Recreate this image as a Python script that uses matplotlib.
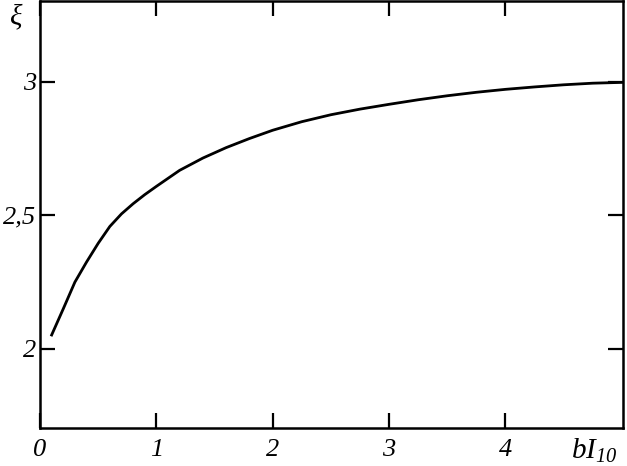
import matplotlib
matplotlib.use("Agg")
import matplotlib.pyplot as plt

# curve
bI = [0.1, 0.2, 0.3, 0.4, 0.5, 0.6, 0.7, 0.8, 0.9, 1.0, 1.2, 1.4, 1.6, 1.8,
      2.0, 2.25, 2.5, 2.75, 3.0, 3.25, 3.5, 3.75, 4.0, 4.25, 4.5, 4.75, 5.0]
xi = [2.052, 2.15, 2.25, 2.325, 2.395, 2.458, 2.505, 2.543, 2.577, 2.608,
      2.668, 2.714, 2.753, 2.787, 2.818, 2.85, 2.876, 2.897, 2.915, 2.932,
      2.947, 2.96, 2.971, 2.98, 2.988, 2.994, 2.997]

xticks = [0, 1, 2, 3, 4]
yticks = [2.0, 2.5, 3.0]
ylabels = ["2", "2,5", "3"]

plt.rcParams["font.family"] = "Liberation Serif"
plt.rcParams["font.style"] = "italic"
plt.rcParams["mathtext.fontset"] = "custom"
plt.rcParams["mathtext.it"] = "Liberation Serif:italic"
plt.rcParams["mathtext.rm"] = "Liberation Serif:italic"

fig = plt.figure(figsize=(6.27, 4.66), dpi=100)
ax = fig.add_axes([0.0638, 0.0815, 0.9298, 0.9155])

ax.plot(bI, xi, color="black", lw=2)

ax.set_xlim(0, 5.01)
ax.set_ylim(1.704, 3.30)
ax.set_xticks(xticks)
ax.set_xticklabels([str(t) for t in xticks])
ax.set_yticks(yticks)
ax.set_yticklabels(ylabels)

for s in ax.spines.values():
    s.set_linewidth(1.8)

ax.tick_params(direction="in", length=11, width=1.6, labelsize=19,
               top=True, right=True)
ax.tick_params(axis="x", pad=8)
ax.tick_params(axis="y", pad=3)

ax.text(0.951, -0.02, r"$\mathit{bI_{10}}$", transform=ax.transAxes,
        fontsize=21, ha="center", va="top")
ax.text(-0.04, 0.993, "ξ", transform=ax.transAxes, fontsize=21,
        ha="center", va="top")

fig.savefig("out.png", dpi=100)
